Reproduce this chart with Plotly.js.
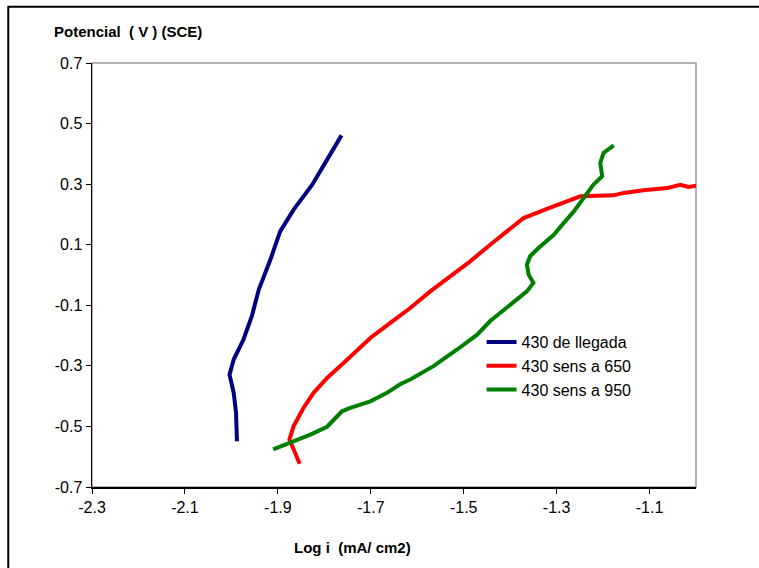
<!DOCTYPE html>
<html>
<head>
<meta charset="utf-8">
<script src="https://cdn.plot.ly/plotly-3.0.1.min.js"></script>
<style>
html,body{margin:0;padding:0;background:#fff;}
#chart{width:759px;height:568px;}
</style>
</head>
<body>
<div id="chart"></div>
<script>
// Series names
const seriesNames = ["430 de llegada", "430 sens a 650", "430 sens a 950"];

// 430 de llegada (blue)
const blueLogI = [-1.988, -1.990, -1.995, -2.004, -1.995, -1.974, -1.956, -1.941, -1.916, -1.895, -1.866, -1.826, -1.794, -1.763];
const bluePot  = [-0.549, -0.455, -0.389, -0.329, -0.279, -0.213, -0.136, -0.048, 0.051, 0.144, 0.216, 0.298, 0.381, 0.461];

// 430 sens a 650 (red)
const redLogI = [-1.853, -1.866, -1.875, -1.866, -1.845, -1.823, -1.794, -1.758, -1.701, -1.658, -1.615, -1.572, -1.529, -1.486, -1.443, -1.393, -1.371, -1.321, -1.278, -1.249, -1.177, -1.156, -1.113, -1.062, -1.034, -1.016, -0.998];
const redPot  = [-0.623, -0.576, -0.543, -0.499, -0.439, -0.389, -0.340, -0.290, -0.208, -0.158, -0.109, -0.054, -0.004, 0.045, 0.100, 0.161, 0.188, 0.218, 0.243, 0.260, 0.263, 0.271, 0.280, 0.287, 0.298, 0.291, 0.295];

// 430 sens a 950 (green)
const greenLogI = [-1.910, -1.873, -1.830, -1.794, -1.762, -1.744, -1.701, -1.665, -1.636, -1.615, -1.565, -1.514, -1.471, -1.443, -1.400, -1.364, -1.350, -1.360, -1.364, -1.357, -1.339, -1.306, -1.288, -1.263, -1.242, -1.221, -1.202, -1.206, -1.199, -1.177];
const greenPot  = [-0.576, -0.554, -0.527, -0.501, -0.450, -0.439, -0.417, -0.389, -0.360, -0.345, -0.301, -0.246, -0.197, -0.152, -0.098, -0.054, -0.026, 0.001, 0.034, 0.062, 0.089, 0.133, 0.166, 0.210, 0.254, 0.298, 0.326, 0.370, 0.403, 0.428];

// Tick labels
const xTickVals = [-2.3, -2.1, -1.9, -1.7, -1.5, -1.3, -1.1];
const xTickText = ["-2.3", "-2.1", "-1.9", "-1.7", "-1.5", "-1.3", "-1.1"];
const yTickVals = [0.7, 0.5, 0.3, 0.1, -0.1, -0.3, -0.5, -0.7];
const yTickText = ["0.7", "0.5", "0.3", "0.1", "-0.1", "-0.3", "-0.5", "-0.7"];

const xTitle = "Log i&nbsp;&nbsp;(mA/ cm2)";
const yTitle = "Potencial&nbsp; ( V ) (SCE)";

const colors = ["#000080", "#FF0000", "#008000"];

const traces = [
  {x: blueLogI, y: bluePot, name: seriesNames[0], mode: "lines", line: {color: colors[0], width: 4}},
  {x: redLogI, y: redPot, name: seriesNames[1], mode: "lines", line: {color: colors[1], width: 4}},
  {x: greenLogI, y: greenPot, name: seriesNames[2], mode: "lines", line: {color: colors[2], width: 4}}
];

const FONT = "Liberation Sans, Arial, sans-serif";

const layout = {
  width: 759,
  height: 568,
  paper_bgcolor: "#fff",
  plot_bgcolor: "#fff",
  margin: {l: 92, r: 63, t: 63, b: 81, pad: 0},
  font: {family: FONT, size: 16, color: "#000"},
  showlegend: true,
  legend: {
    x: 0.645, y: 0.382, xanchor: "left", yanchor: "top",
    bgcolor: "rgba(0,0,0,0)", borderwidth: 0,
    font: {family: FONT, size: 16, color: "#000"}
  },
  xaxis: {
    range: [-2.3, -1.0],
    tickmode: "array", tickvals: xTickVals, ticktext: xTickText,
    ticks: "outside", ticklen: 5, tickwidth: 1, tickcolor: "#000",
    showline: true, linecolor: "#000", linewidth: 1.5,
    showgrid: false, zeroline: false,
    tickfont: {family: FONT, size: 16, color: "#000"}
  },
  yaxis: {
    range: [-0.7, 0.7],
    tickmode: "array", tickvals: yTickVals, ticktext: yTickText,
    ticks: "outside", ticklen: 5, tickwidth: 1, tickcolor: "#000",
    showline: true, linecolor: "#000", linewidth: 1.5,
    showgrid: false, zeroline: false,
    tickfont: {family: FONT, size: 16, color: "#000"}
  },
  shapes: [
    {type: "rect", xref: "paper", yref: "paper", x0: 0, x1: 1, y0: 0, y1: 1,
     line: {color: "#9a9a9a", width: 1.5}, layer: "below"},
    {type: "rect", xref: "paper", yref: "paper", x0: -0.1386, x1: 1.3, y0: -0.4, y1: 1.1328,
     line: {color: "#000", width: 2}, layer: "below"}
  ],
  annotations: [
    {text: "<b>" + yTitle + "</b>", xref: "paper", yref: "paper",
     x: (52 - 92) / 604, y: (487 - 31) / 424, xanchor: "left", yanchor: "middle",
     showarrow: false, font: {family: FONT, size: 15, color: "#000"}},
    {text: "<b>" + xTitle + "</b>", xref: "paper", yref: "paper",
     x: (352 - 92) / 604, y: (487 - 547.5) / 424, xanchor: "center", yanchor: "middle",
     showarrow: false, font: {family: FONT, size: 15, color: "#000"}}
  ]
};

Plotly.newPlot("chart", traces, layout, {displayModeBar: false, staticPlot: true});
</script>
</body>
</html>
